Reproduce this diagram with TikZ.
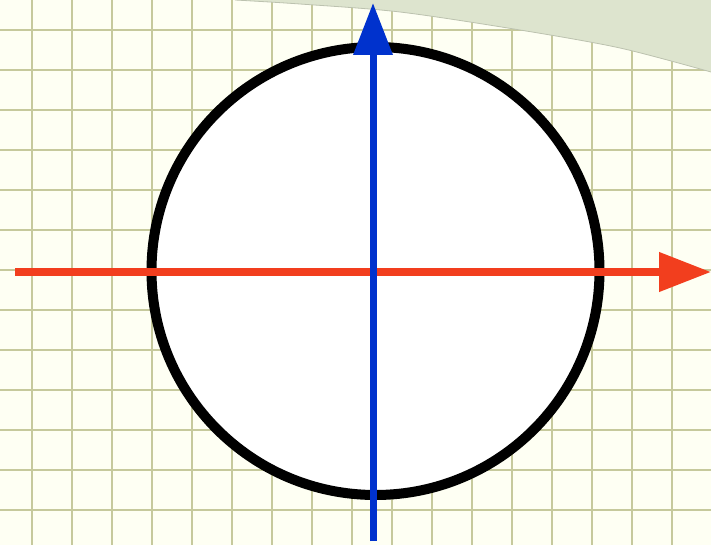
\documentclass[tikz,border=0pt]{standalone}
\usepackage{tikz}
\usetikzlibrary{arrows.meta,calc}
\definecolor{paper}{RGB}{254,255,243}
\definecolor{gridline}{RGB}{198,201,156}
\definecolor{sage}{RGB}{221,228,206}
\definecolor{axisred}{RGB}{242,62,30}
\definecolor{axisblue}{RGB}{0,50,205}

\begin{document}
\begin{tikzpicture}[x=1pt,y=-1pt,
   gridrule/.style={draw=gridline,line width=2pt},
   axis/.style={line width=7.5pt,-{Triangle[length=52pt,width=38pt]}}]
  \useasboundingbox (0,0) rectangle (711,545);
  \fill[paper] (0,0) rectangle (711,545);
  % squared paper
  \foreach \x in {32,72,...,711} \draw[gridrule] (\x,0) -- (\x,545);
  \foreach \y in {30,70,...,545} \draw[gridrule] (0,\y) -- (711,\y);
  % curled sheet in the corner
  \fill[sage] plot[smooth] coordinates {(235,0) (300,4) (400,12) (520,30) (620,48) (711,72)}
    -- (711,0) -- cycle;
  \draw[sage!85!black,line width=0.8pt] plot[smooth] coordinates {(235,0) (300,4) (400,12) (520,30) (620,48) (711,72)};
  \coordinate (o) at (375.5,271);
  \coordinate (west) at (15,272);
  \coordinate (east) at (711,272);
  \coordinate (south) at (373,541);
  \coordinate (north) at (373,3);
  \draw[line width=10pt,fill=white] (o) circle (224pt);
  \draw[axis,axisred] (west) -- (east);
  \draw[axis,axisblue,line width=7pt] (south) -- (north);
\end{tikzpicture}
\end{document}
